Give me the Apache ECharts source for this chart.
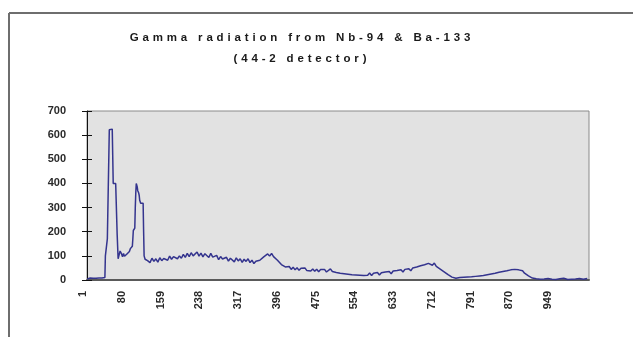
<!DOCTYPE html>
<html>
<head>
<meta charset="utf-8">
<script src="https://cdn.jsdelivr.net/npm/echarts@6/dist/echarts.min.js"></script>
<style>
  html, body { margin: 0; padding: 0; background: #ffffff; }
  #chart { width: 633px; height: 337px; }
</style>
</head>
<body>
<div id="chart"></div>
<script>
// Gamma spectrum of the 44-2 detector, 1024 channels
const CHANNEL_COUNT = 1024;

const titleLine1 = 'Gamma radiation from Nb-94 & Ba-133';
const titleLine2 = '(44-2 detector)';

// channel tick labels on the x axis (every 79th channel)
const tickLabels = ['1', '80', '159', '238', '317', '396', '475', '554', '633', '712', '791', '870', '949'];

// count axis ticks
const countTicks = [0, 100, 200, 300, 400, 500, 600, 700];

// counts for every channel 1..124 (the two sharp low-energy lines)
const lowChannelCounts = [
  4, 6, 5, 7, 6, 5, 8, 6, 7, 5, 6, 8, 7, 6, 9, 7, 6, 8, 7, 9,
  6, 8, 7, 9, 8, 7, 10, 8, 9, 7, 8, 10, 9, 8, 11, 9, 10,
  100, 102, 98, 100,
  170, 172, 168, 174,
  622, 625, 620, 626, 623, 621, 625, 618,
  400, 404, 398, 402, 396, 400, 395, 392,
  190, 186,
  88,
  95, 104, 112, 120, 126, 118, 108, 100, 96, 104, 110, 102, 98, 106, 100, 97, 103, 108, 101, 99,
  105, 112, 118, 124, 130, 122, 128, 135, 140,
  170, 205, 212, 208, 215,
  300, 360,
  400, 395, 385,
  370, 372, 360, 350,
  330, 322, 318, 325, 320, 315, 322, 318,
  200,
  100,
  92, 86, 82, 84, 79, 83, 80
];
const LOW_STEP = 1;

// counts for every 4th channel from 125 to 561 (Compton region and the 396 bump)
const midChannelCounts = [
  86, 72, 90, 77, 88, 74, 92, 80, 89, 95,
  82, 99, 86, 97, 103, 88, 100, 90, 106, 94,
  110, 97, 113, 100, 108, 116, 99, 111, 96, 109,
  105, 93, 110, 95, 90, 102, 84, 97, 87, 80,
  94, 78, 90, 82, 75, 92, 79, 88, 73, 86,
  77, 88, 72, 82, 68, 78, 71, 82, 84, 96,
  96, 108, 99, 110, 97, 96, 82, 78, 64, 62,
  54, 52, 56, 44, 53, 42, 51, 40, 49, 41,
  50, 39, 47, 37, 46, 36, 45, 34, 43, 35,
  44, 33, 41, 46, 35, 43, 31, 39, 28, 36,
  26, 34, 24, 32, 22, 30, 21, 29, 20, 28
];
const MID_START = 125;
const MID_STEP = 4;

// counts for every 4th channel from 565 to 1021 (712 and 870 bumps, tail)
const highChannelCounts = [
  19, 27, 20, 29, 19, 28, 22, 31, 21, 30,
  23, 33, 25, 35, 26, 37, 29, 39, 31, 42,
  33, 44, 36, 47, 38, 50, 42, 54, 47, 59,
  51, 63, 56, 69, 74, 61, 70, 56, 57, 45,
  46, 34, 33, 22, 19, 12, 12, 7, 8, 10,
  5, 11, 7, 12, 7, 13, 9, 15, 10, 17,
  12, 19, 15, 22, 17, 25, 20, 28, 23, 32,
  26, 35, 29, 38, 32, 42, 35, 44, 37, 42,
  34, 38, 28, 25, 17, 13, 8, 8, 5, 6,
  3, 7, 4, 2, 6, 7, 3, 6, 2, 7, 5, 3, 7, 4, 2, 6, 3, 7, 4, 3, 6, 7, 3, 5, 6
];
const HIGH_START = 565;
const HIGH_STEP = 4;

const channels = [];
for (let c = 1; c <= CHANNEL_COUNT; c++) channels.push(String(c));

// [category index, count] pairs
const seriesData = []
  .concat(lowChannelCounts.map((v, i) => [i * LOW_STEP, v]))
  .concat(midChannelCounts.map((v, i) => [MID_START - 1 + i * MID_STEP, v]))
  .concat(highChannelCounts.map((v, i) => [HIGH_START - 1 + i * HIGH_STEP, v]));

// letter-spaced heading text
const spaced = s => s.split('').join('\u2004');

const chart = echarts.init(document.getElementById('chart'), null, { renderer: 'canvas' });

const labelFont = {
  color: '#2a2a2a',
  fontFamily: 'Liberation Sans, Arial, sans-serif',
  fontWeight: 'bold',
  fontSize: 11
};

chart.setOption({
  animation: false,
  backgroundColor: '#ffffff',
  title: {
    text: spaced(titleLine1) + '\n' + spaced(titleLine2),
    left: 295,
    top: 22,
    textAlign: 'center',
    textStyle: {
      color: '#1a1a1a',
      fontFamily: 'Liberation Sans, Arial, sans-serif',
      fontWeight: 'bold',
      fontSize: 11.5,
      lineHeight: 21
    }
  },
  graphic: [
    { type: 'line', silent: true, shape: { x1: 9, y1: 13, x2: 633, y2: 13 }, style: { stroke: '#6e6e6e', lineWidth: 2 } },
    { type: 'line', silent: true, shape: { x1: 9, y1: 13, x2: 9, y2: 337 }, style: { stroke: '#6e6e6e', lineWidth: 2 } }
  ],
  grid: {
    left: 87,
    right: 44,
    top: 111,
    bottom: 57,
    show: true,
    backgroundColor: '#e2e2e2',
    borderColor: '#8a8a8a',
    borderWidth: 1
  },
  xAxis: {
    type: 'category',
    data: channels,
    boundaryGap: true,
    axisLine: { show: true, lineStyle: { color: '#5a5a5a', width: 2 } },
    axisTick: { show: false },
    axisLabel: Object.assign({
      interval: Number(tickLabels[1]) - Number(tickLabels[0]) - 1,
      rotate: 90,
      margin: 11,
      verticalAlign: 'bottom',
      lineHeight: 8
    }, labelFont),
    splitLine: { show: false }
  },
  yAxis: [
    {
      type: 'value',
      min: countTicks[0],
      max: countTicks[countTicks.length - 1],
      interval: countTicks[1] - countTicks[0],
      axisLine: { show: true, lineStyle: { color: '#111111', width: 1 } },
      axisTick: { show: true, length: 5, lineStyle: { color: '#111111' } },
      axisLabel: Object.assign({ margin: 21 }, labelFont),
      splitLine: { show: false }
    },
    {
      type: 'value',
      position: 'left',
      min: countTicks[0],
      max: countTicks[countTicks.length - 1],
      interval: countTicks[1] - countTicks[0],
      axisLine: { show: false },
      axisTick: { show: true, inside: true, length: 5, lineStyle: { color: '#111111' } },
      axisLabel: { show: false },
      splitLine: { show: false }
    }
  ],
  series: [
    {
      type: 'line',
      name: 'Counts',
      data: seriesData,
      showSymbol: false,
      symbol: 'none',
      lineStyle: { color: '#34348e', width: 1.5 },
      z: 3
    }
  ]
});
</script>
</body>
</html>
